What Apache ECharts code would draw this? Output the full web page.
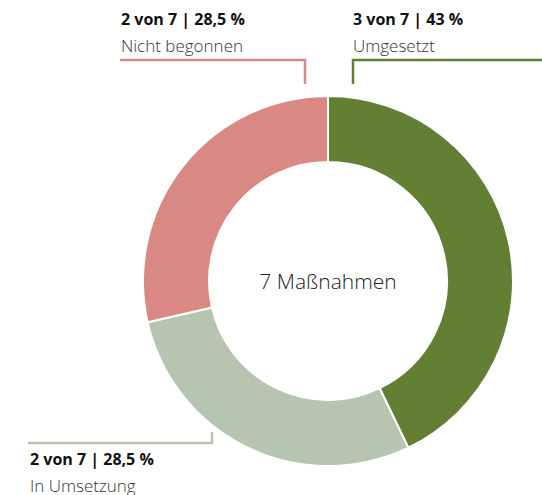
<!DOCTYPE html>
<html>
<head>
<meta charset="utf-8">
<style>
  html, body { margin: 0; padding: 0; background: #fff; }
  #chart { width: 542px; height: 495px; }
</style>
<script src="https://cdn.jsdelivr.net/npm/echarts@6/dist/echarts.min.js"></script>
</head>
<body>
<div id="chart"></div>
<script>
// Status of measures
const categories = ['Umgesetzt', 'In Umsetzung', 'Nicht begonnen'];
const counts = [3, 2, 2];
const percentLabels = ['43 %', '28,5 %', '28,5 %'];
const centerLabel = '7 Maßnahmen';
const colors = ['#627f34', '#b5c5af', '#d98884'];

const total = counts.reduce((a, b) => a + b, 0);
const FONT = '"Open Sans", sans-serif';

// Callout placement per category: text anchor (middle of first line) + leader line path
const callouts = [
  { x: 353, y: 19, line: [[353, 84], [353, 60], [542, 60]] },
  { x: 30, y: 459, line: [[212, 432], [212, 443], [28, 443]] },
  { x: 121, y: 19, line: [[305, 84], [305, 60], [120, 60]] }
];

const graphics = [];
categories.forEach((name, i) => {
  const c = callouts[i];
  graphics.push({
    type: 'polyline',
    shape: { points: c.line },
    style: { stroke: colors[i], lineWidth: 2.5, fill: null }
  });
  graphics.push({
    type: 'text',
    x: c.x, y: c.y,
    style: {
      text: counts[i] + ' von ' + total + ' | ' + percentLabels[i],
      font: 'bold 16px ' + FONT,
      fill: '#111',
      textVerticalAlign: 'middle'
    }
  });
  graphics.push({
    type: 'text',
    x: c.x, y: c.y + 26.5,
    style: {
      text: name,
      font: '300 17px ' + FONT,
      fill: '#333',
      textVerticalAlign: 'middle'
    }
  });
});
graphics.push({
  type: 'text',
  x: 328, y: 281,
  style: {
    text: centerLabel,
    font: '300 21px ' + FONT,
    fill: '#222',
    textAlign: 'center',
    textVerticalAlign: 'middle'
  }
});

const chart = echarts.init(document.getElementById('chart'), null, { renderer: 'svg' });
chart.setOption({
  animation: false,
  series: [{
    type: 'pie',
    center: [328, 281],
    radius: [119, 185],
    startAngle: 90,
    clockwise: true,
    label: { show: false },
    labelLine: { show: false },
    emphasis: { disabled: true },
    itemStyle: { borderColor: '#fff', borderWidth: 2 },
    data: categories.map((name, i) => ({
      name: name,
      value: counts[i],
      itemStyle: { color: colors[i] }
    }))
  }],
  graphic: graphics
});
</script>
</body>
</html>
